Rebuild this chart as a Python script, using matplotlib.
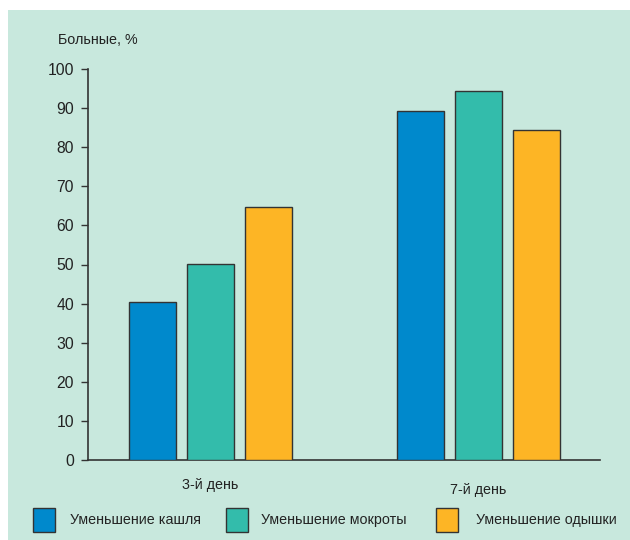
import matplotlib
matplotlib.use("Agg")
import matplotlib.pyplot as plt
from matplotlib.patches import Rectangle
import numpy as np

categories = ["3-й день", "7-й день"]
series = ["Уменьшение кашля", "Уменьшение мокроты", "Уменьшение одышки"]
values = {
    "Уменьшение кашля": [40.5, 89.2],
    "Уменьшение мокроты": [50.2, 94.5],
    "Уменьшение одышки": [64.7, 84.5],
}
colors = ["#0089CC", "#33BCAB", "#FDB525"]
yticks = [0, 10, 20, 30, 40, 50, 60, 70, 80, 90, 100]

plt.rcParams['font.family'] = ['Liberation Sans Narrow', 'Liberation Sans', 'DejaVu Sans']
FS = 10.3

W, H = 630, 540
fig = plt.figure(figsize=(W/100, H/100), dpi=100, facecolor="white")
bg = "#C8E8DD"
fig.patches.append(Rectangle((8/W, 0), 1 - 8/W, (H - 10)/H, transform=fig.transFigure,
                             facecolor=bg, edgecolor="none", zorder=-10))

ax = fig.add_axes([88/W, (H - 460)/H, (600 - 88)/W, (460 - 69)/H])
ax.set_zorder(2)
ax.set_facecolor("none")

x = np.arange(len(categories))
offset = 0.216
width = 0.175
for i, s in enumerate(series):
    ax.bar(x + (i - 1) * offset, values[s], width=width, color=colors[i],
           edgecolor="#333333", linewidth=1.0, label=s, zorder=3)

ax.set_xlim(-0.457, 1.453)
ax.set_ylim(0, 100)
ax.set_yticks(yticks)
ax.set_yticklabels([str(t) for t in yticks], fontsize=FS + 1.0, color="#222222")
ax.tick_params(axis='y', length=5, width=1, color="#333333", pad=5)
ax.set_xticks([])
for sp in ["top", "right"]:
    ax.spines[sp].set_visible(False)
ax.spines["left"].set_color("#333333")
ax.spines["bottom"].set_color("#333333")
ax.spines["left"].set_linewidth(1.2)
ax.spines["bottom"].set_linewidth(1.2)

# category labels
ax.text(0, -6.4, categories[0], ha="center", va="center", fontsize=FS, color="#222222")
ax.text(1, -7.7, categories[1], ha="center", va="center", fontsize=FS, color="#222222")

fig.text(58/W, 1 - 40/H, "Больные, %", ha="left", va="center", fontsize=FS, color="#222222")

# legend
leg_sq = [33, 226, 436]
leg_tx = [70, 261, 476]
for i, s in enumerate(series):
    fig.patches.append(Rectangle((leg_sq[i]/W, 1 - 532/H), 22/W, 24/H, transform=fig.transFigure,
                                 facecolor=colors[i], edgecolor="#333333", linewidth=1.0, zorder=3))
    fig.text(leg_tx[i]/W, 1 - 520/H, s, ha="left", va="center", fontsize=FS, color="#222222")

fig.savefig("out.png", dpi=100, facecolor="white")
